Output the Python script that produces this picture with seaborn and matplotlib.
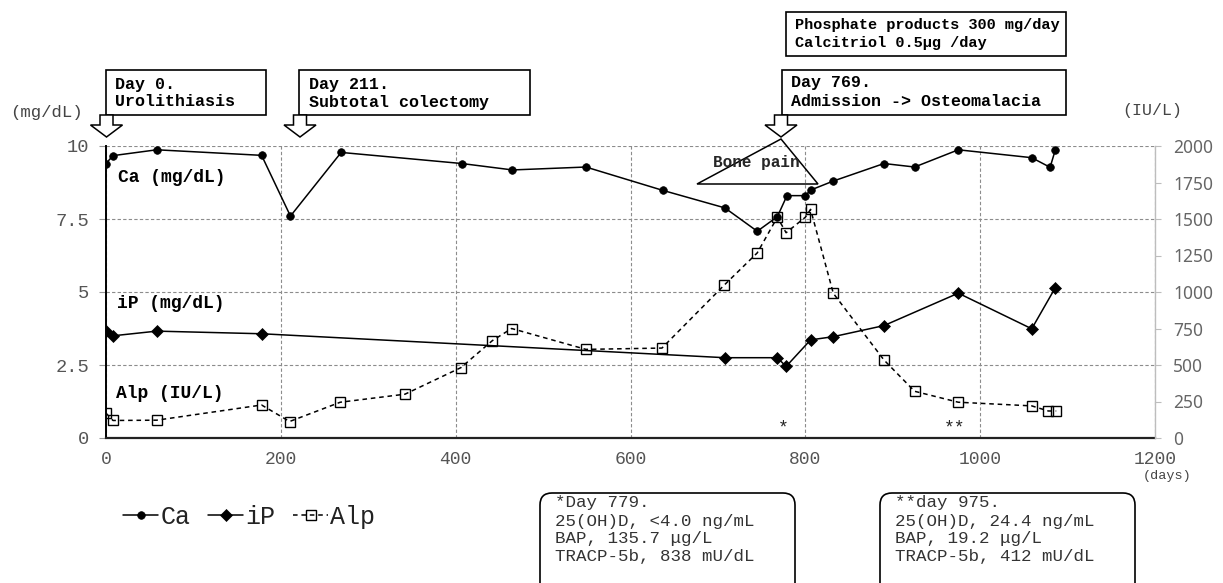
import matplotlib
matplotlib.use("Agg")
import matplotlib.pyplot as plt
import seaborn as sns
import pandas as pd
from matplotlib.patches import Rectangle, Polygon, FancyBboxPatch

# ---------------- data ----------------
ca_days = [0, 8, 58, 178, 211, 269, 407, 465, 549, 637, 708, 745, 768, 779, 800, 806, 832, 890, 925, 975, 1059, 1080, 1086]
ca_vals = [9.4, 9.67, 9.87, 9.68, 7.6, 9.78, 9.4, 9.18, 9.28, 8.48, 7.88, 7.08, 7.58, 8.3, 8.3, 8.49, 8.8, 9.4, 9.28, 9.87, 9.6, 9.27, 9.87]

ip_days = [0, 8, 58, 178, 708, 768, 778, 806, 832, 890, 975, 1059, 1086]
ip_vals = [3.66, 3.5, 3.66, 3.57, 2.75, 2.75, 2.45, 3.36, 3.47, 3.85, 4.96, 3.74, 5.15]

alp_days = [0, 8, 58, 178, 210, 268, 342, 406, 442, 464, 549, 636, 707, 745, 768, 778, 800, 806, 832, 890, 925, 975, 1059, 1078, 1087]
alp_vals = [170, 120, 122, 226, 113, 245, 300, 482, 667, 750, 607, 616, 1046, 1268, 1512, 1406, 1512, 1566, 991, 534, 320, 245, 220, 185, 185]

x_ticks = [0, 200, 400, 600, 800, 1000, 1200]
left_ticks = [0, 2.5, 5, 7.5, 10]
left_labels = ["0", "2.5", "5", "7.5", "10"]
right_ticks = [0, 250, 500, 750, 1000, 1250, 1500, 1750, 2000]

series_names = ["Ca", "iP", "Alp"]

W, H = 1223, 583
MONO = ["Liberation Mono", "DejaVu Sans Mono", "DejaVu Sans"]

sns.set_style("white")
plt.rcParams["font.family"] = MONO

fig = plt.figure(figsize=(W / 100, H / 100), dpi=100)
ax = fig.add_axes([106 / W, (H - 438) / H, (1155 - 106) / W, (438 - 146) / H])
ax2 = ax.twinx()

df_ca = pd.DataFrame({"day": ca_days, "value": ca_vals})
df_ip = pd.DataFrame({"day": ip_days, "value": ip_vals})
df_alp = pd.DataFrame({"day": alp_days, "value": alp_vals})

sns.lineplot(data=df_ca, x="day", y="value", ax=ax, color="black", lw=1.1,
             marker="o", markersize=5.5, markeredgecolor="black", markeredgewidth=0.5,
             estimator=None, label=series_names[0], legend=False, zorder=4)
sns.lineplot(data=df_ip, x="day", y="value", ax=ax, color="black", lw=1.1,
             marker="D", markersize=6.3, markeredgecolor="black", markeredgewidth=0.5,
             estimator=None, label=series_names[1], legend=False, zorder=4)
sns.lineplot(data=df_alp, x="day", y="value", ax=ax2, color="black", lw=1.1,
             linestyle=(0, (3, 2.5)), marker="s", markersize=7.3,
             markerfacecolor="none", markeredgecolor="black", markeredgewidth=1.0,
             estimator=None, label=series_names[2], legend=False, zorder=4)

for a in (ax, ax2):
    if a.get_legend() is not None:
        a.get_legend().remove()
    a.set_xlabel("")
    a.set_ylabel("")

ax.set_xlim(0, 1200)
ax.set_ylim(0, 10)
ax2.set_ylim(0, 2000)
ax.set_xticks(x_ticks)
ax.set_xticklabels([str(t) for t in x_ticks])
ax.set_yticks(left_ticks)
ax.set_yticklabels(left_labels)
ax2.set_yticks(right_ticks)
ax2.set_yticklabels([str(t) for t in right_ticks])

ax.grid(True, color="#8c8c8c", linestyle=(0, (3, 2)), linewidth=0.8)
ax.set_axisbelow(True)

for s in ("top", "right"):
    ax.spines[s].set_visible(False)
ax.spines["left"].set_color("black")
ax.spines["left"].set_linewidth(1.4)
ax.spines["bottom"].set_color("#222222")
ax.spines["bottom"].set_linewidth(1.6)
for s in ("top", "left", "bottom"):
    ax2.spines[s].set_visible(False)
ax2.spines["right"].set_color("#bdbdbd")
ax2.spines["right"].set_linewidth(1.0)

ax.tick_params(axis="y", length=5, color="#999999", labelcolor="#555555",
               labelsize=13.5, pad=7, left=True)
ax.tick_params(axis="x", length=0, labelcolor="#555555", labelsize=13, pad=9, bottom=True)
ax2.tick_params(axis="y", length=4, color="#bdbdbd", labelcolor="#666666",
                labelsize=12.5, pad=9, right=True)
for lab in ax2.get_yticklabels():
    lab.set_fontfamily(["Noto Sans", "DejaVu Sans"])

# ---------------- legend ----------------
handles = ax.get_lines()[:2] + ax2.get_lines()[:1]
fig.legend(handles, series_names, loc="center left",
           bbox_to_anchor=(123 / W, 1 - 517 / H), ncol=3, frameon=False,
           handlelength=1.4, handletextpad=0.1, columnspacing=0.7,
           borderpad=0, borderaxespad=0,
           prop={"family": MONO, "size": 18})
for t in fig.legends[0].get_texts():
    t.set_color("#222222")

# ---------------- annotation overlay (pixel coordinates) ----------------
ov = fig.add_axes([0, 0, 1, 1])
ov.set_xlim(0, W)
ov.set_ylim(H, 0)
ov.axis("off")


def box(x0, y0, x1, y1):
    ov.add_patch(Rectangle((x0, y0), x1 - x0, y1 - y0, fc="white", ec="black", lw=1.2))


def down_arrow(cx, top=115, neck=125, tip=137, sw=6.5, hw=16):
    pts = [(cx - sw, top), (cx + sw, top), (cx + sw, neck), (cx + hw, neck),
           (cx, tip), (cx - hw, neck), (cx - sw, neck)]
    ov.add_patch(Polygon(pts, closed=True, fc="white", ec="black", lw=1.1))


def btext(x, y, s, size=12):
    ov.text(x, y, s, fontsize=size, fontweight="bold", ha="left", va="center",
            family=MONO, color="black")


# event boxes
box(106, 70, 266, 115)
btext(115, 84, "Day 0.")
btext(115, 102, "Urolithiasis")
down_arrow(106.5)

box(299, 70, 530, 115)
btext(309, 84, "Day 211.")
btext(309, 102, "Subtotal colectomy")
down_arrow(300)

box(782, 70, 1066, 115)
btext(791, 83, "Day 769.")
btext(791, 102, "Admission -> Osteomalacia")
down_arrow(781)

box(786, 12, 1066, 56)
btext(795, 25, "Phosphate products 300 mg/day", size=11)
btext(795, 43, "Calcitriol 0.5\u03bcg /day", size=11)

# bone pain triangle
ov.add_patch(Polygon([(697, 184), (781, 139), (818, 184)], closed=True,
                     fill=False, ec="black", lw=1.1))
ov.text(756, 162, "Bone pain", fontsize=11.5, fontweight="bold", ha="center",
        va="center", family=MONO)

# series labels
btext(118, 178, "Ca (mg/dL)", size=13)
btext(117, 303, "iP (mg/dL)", size=13)
btext(116, 394, "Alp (IU/L)", size=13)

# asterisks
ov.text(783, 428, "*", fontsize=13, ha="center", va="center", family=MONO)
ov.text(955, 428, "**", fontsize=13, ha="center", va="center", family=MONO)

# unit labels
ov.text(10, 112, "(mg/dL)", fontsize=12.5, ha="left", va="center", family=MONO, color="#444444")
ov.text(1122, 111, "(IU/L)", fontsize=12, ha="left", va="center", family=MONO, color="#444444")
ov.text(1143, 476, "(days)", fontsize=9.7, ha="left", va="center", family=MONO, color="#444444")

# bottom note boxes
notes1 = ["*Day 779.", "25(OH)D, <4.0 ng/mL", "BAP, 135.7 \u03bcg/L", "TRACP-5b, 838 mU/dL"]
notes2 = ["**day 975.", "25(OH)D, 24.4 ng/mL", "BAP, 19.2 \u03bcg/L", "TRACP-5b, 412 mU/dL"]
line_y = [503, 521.5, 539, 557]
for (x0, x1, notes) in [(540, 795, notes1), (880, 1135, notes2)]:
    ov.add_patch(FancyBboxPatch((x0, 493), x1 - x0, 130,
                                boxstyle="round,pad=0,rounding_size=12",
                                fc="white", ec="black", lw=1.2))
    for yy, s in zip(line_y, notes):
        ov.text(x0 + 15, yy, s, fontsize=12.6, ha="left", va="center",
                family=MONO, color="#333333")

fig.savefig("out.png", dpi=100)
